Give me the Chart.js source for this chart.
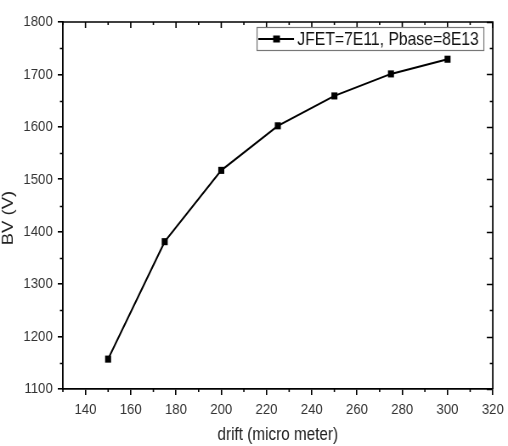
<!DOCTYPE html>
<html>
<head>
<meta charset="utf-8">
<script src="https://cdn.jsdelivr.net/npm/chart.js@4.4.1/dist/chart.umd.min.js"></script>
<style>
  html, body { margin: 0; padding: 0; background: #fff; overflow: hidden; }
  /* el original está comprimido en horizontal: se dibuja más ancho y se encoge */
  #marco { width: 598px; height: 446px; transform: scaleX(0.8495); transform-origin: 0 0; }
</style>
</head>
<body>
<div id="marco"><canvas id="grafico" width="598" height="446"></canvas></div>
<script>
// Datos
const drift = [150, 175, 200, 225, 250, 275, 300];
const bv = [1157, 1381, 1517, 1602, 1659, 1701, 1729];
const xTicks = [140, 160, 180, 200, 220, 240, 260, 280, 300, 320];
const yTicks = [1100, 1200, 1300, 1400, 1500, 1600, 1700, 1800];
const serieLabel = "JFET=7E11, Pbase=8E13";
const xTitle = "drift (micro meter)";
const yTitle = "BV (V)";

const fuente = '"Liberation Sans", Arial, sans-serif';

// Marco, ticks internos/menores, título Y y leyenda estilo Origin
const marcoOrigin = {
  id: "marcoOrigin",
  afterDraw(chart) {
    const { ctx, chartArea: a, scales: { x, y } } = chart;
    ctx.save();
    ctx.strokeStyle = "#000";
    ctx.lineWidth = 1.7;

    ctx.beginPath();
    ctx.moveTo(a.left, a.top);
    ctx.lineTo(a.right, a.top);
    ctx.lineTo(a.right, a.bottom);
    ctx.stroke();

    ctx.lineWidth = 1.6;
    ctx.beginPath();
    xTicks.forEach(v => {
      const px = x.getPixelForValue(v);
      ctx.moveTo(px, a.top); ctx.lineTo(px, a.top + 6);
      const pm = x.getPixelForValue(v - 10);
      ctx.moveTo(pm, a.top); ctx.lineTo(pm, a.top + 3);
      ctx.moveTo(pm, a.bottom); ctx.lineTo(pm, a.bottom + 3);
    });
    yTicks.forEach((v, i) => {
      const py = Math.round(y.getPixelForValue(v)) + 0.5;
      ctx.moveTo(a.right, py); ctx.lineTo(a.right - 7, py);
      if (i < yTicks.length - 1) {
        const pm = Math.round(y.getPixelForValue(v + 50)) + 0.5;
        ctx.moveTo(a.right, pm); ctx.lineTo(a.right - 3.5, pm);
        ctx.moveTo(a.left, pm); ctx.lineTo(a.left - 3.5, pm);
      }
    });
    ctx.stroke();

    // título eje Y
    ctx.save();
    ctx.translate(10, 218);
    ctx.rotate(-Math.PI / 2);
    ctx.fillStyle = "#222";
    ctx.font = "18.5px " + fuente;
    ctx.textAlign = "center";
    ctx.textBaseline = "middle";
    ctx.fillText(yTitle, 0, 0);
    ctx.restore();

    // leyenda
    const lx = a.right - 278, ly = a.top + 5;
    ctx.fillStyle = "#fff";
    ctx.fillRect(lx, ly, 267, 23);
    ctx.strokeStyle = "#777";
    ctx.lineWidth = 1.2;
    ctx.strokeRect(lx + 0.5, ly + 0.5, 267, 23);
    const cy = ly + 12;
    ctx.strokeStyle = "#000";
    ctx.lineWidth = 2;
    ctx.beginPath();
    ctx.moveTo(lx + 2, cy); ctx.lineTo(lx + 44, cy);
    ctx.stroke();
    ctx.fillStyle = "#000";
    ctx.fillRect(lx + 19.5, cy - 3.5, 8, 7);
    ctx.fillStyle = "#111";
    ctx.font = "18.5px " + fuente;
    ctx.textAlign = "left";
    ctx.textBaseline = "middle";
    ctx.fillText(serieLabel, lx + 48, cy + 1);
    ctx.restore();
  }
};

new Chart(document.getElementById("grafico").getContext("2d"), {
  type: "line",
  data: {
    datasets: [{
      label: serieLabel,
      data: drift.map((d, i) => ({ x: d, y: bv[i] })),
      borderColor: "#000",
      borderWidth: 2,
      backgroundColor: "#000",
      pointStyle: "rect",
      pointRadius: 5,
      pointBorderWidth: 0,
      tension: 0,
      fill: false
    }]
  },
  options: {
    responsive: false,
    animation: false,
    layout: { padding: { top: 22, right: 11, left: 0, bottom: 0 } },
    plugins: { legend: { display: false }, tooltip: { enabled: false } },
    scales: {
      x: {
        type: "linear",
        min: 130,
        max: 320,
        afterBuildTicks: s => { s.ticks = xTicks.map(v => ({ value: v })); },
        afterFit: s => { s.height = 57; },
        grid: { drawOnChartArea: false, color: "#000", lineWidth: 1.6, tickLength: 6 },
        border: { color: "#000", width: 1.8 },
        ticks: { color: "#333", font: { family: fuente, size: 15.5 }, padding: 5, maxRotation: 0, autoSkip: false, callback: v => String(v) },
        title: { display: true, text: xTitle, color: "#222", font: { family: fuente, size: 18 }, padding: 0 }
      },
      y: {
        min: 1100,
        max: 1800,
        afterBuildTicks: s => { s.ticks = yTicks.map(v => ({ value: v })); },
        afterFit: s => { s.width = 74; },
        grid: { drawOnChartArea: false, color: "#000", lineWidth: 1.6, tickLength: 6 },
        border: { color: "#000", width: 1.8 },
        ticks: { color: "#333", font: { family: fuente, size: 15.5 }, padding: 6, autoSkip: false, callback: v => String(v) },
        title: { display: false }
      }
    }
  },
  plugins: [marcoOrigin]
});
</script>
</body>
</html>
